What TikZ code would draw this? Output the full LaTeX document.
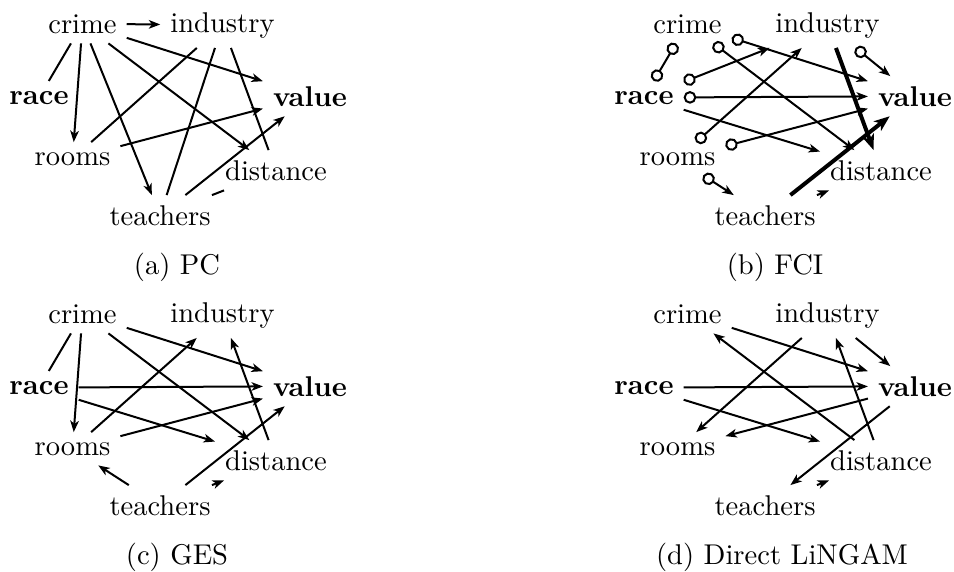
\documentclass[tikz,border=0pt]{standalone}
\usetikzlibrary{arrows.meta}
\tikzset{
  lbl/.style={anchor=base, inner sep=3.33pt},
  und/.style={line width=0.7pt},
  dir/.style={line width=0.7pt, -{Stealth[length=4pt,width=3pt,inset=1.1pt]}},
  oar/.style={line width=0.7pt, {Circle[open,length=4.4pt,width=4.4pt]}-{Stealth[length=4pt,width=3pt,inset=1.1pt]}},
  oo/.style={line width=0.7pt, {Circle[open,length=4.4pt,width=4.4pt]}-{Circle[open,length=4.4pt,width=4.4pt]}},
  thk/.style={line width=1.4pt, -{Stealth[length=5.5pt,width=4.2pt,inset=1.5pt]}},
  captxt/.style={anchor=base}
}
\newcommand{\mknodes}[1]{%
  \node[lbl] (#1crime) at (82.5,33) {crime};
  \node[lbl] (#1industry) at (222.5,32) {industry};
  \node[lbl] (#1race) at (39,104) {\textbf{race}};
  \node[lbl] (#1value) at (310,106) {\textbf{value}};
  \node[lbl] (#1rooms) at (72.5,165) {rooms};
  \node[lbl] (#1distance) at (276,180) {distance};
  \node[lbl] (#1teachers) at (160,225) {teachers};
}
\begin{document}
\begin{tikzpicture}[x=0.35pt,y=-0.35pt]
\useasboundingbox (0,0) rectangle (954,571);
% (a) PC
\begin{scope}
  \mknodes{a}
  \draw[dir] (acrime) -- (aindustry);
  \draw[und] (acrime) -- (arace);
  \draw[dir] (acrime) -- (arooms);
  \draw[dir] (acrime) -- (ateachers);
  \draw[dir] (acrime) -- (adistance);
  \draw[dir] (acrime) -- (avalue);
  \draw[und] (aindustry) -- (arooms);
  \draw[und] (aindustry) -- (ateachers);
  \draw[und] (aindustry) -- (adistance);
  \draw[dir] (arooms) -- (avalue);
  \draw[dir] (ateachers) -- (avalue);
  \draw[und] (ateachers) -- (adistance);
  \node[captxt] (capa) at (177,274) {(a) PC};
\end{scope}
% (b) FCI
\begin{scope}[shift={(605,0)}]
  \mknodes{b}
  \draw[oo] (bcrime) -- (brace);
  \draw[oar] (brace) -- (bindustry);
  \draw[oar] (brace) -- (bvalue);
  \draw[dir] (brace) -- (bdistance);
  \draw[oar] (bcrime) -- (bdistance);
  \draw[oar] (bcrime) -- (bvalue);
  \draw[oar] (brooms) -- (bindustry);
  \draw[oar] (brooms) -- (bvalue);
  \draw[oar] (bindustry) -- (bvalue);
  \draw[thk] (bindustry) -- (bdistance);
  \draw[thk] (bteachers) -- (bvalue);
  \draw[oar] (brooms) -- (bteachers);
  \draw[dir] (bteachers) -- (bdistance);
  \node[captxt] (capb) at (170,274) {(b) FCI};
\end{scope}
% (c) GES
\begin{scope}[shift={(0,290)}]
  \mknodes{c}
  \draw[und] (ccrime) -- (crace);
  \draw[dir] (ccrime) -- (crooms);
  \draw[dir] (ccrime) -- (cdistance);
  \draw[dir] (ccrime) -- (cvalue);
  \draw[dir] (crace) -- (cvalue);
  \draw[dir] (crace) -- (cdistance);
  \draw[dir] (crooms) -- (cindustry);
  \draw[dir] (crooms) -- (cvalue);
  \draw[dir] (cdistance) -- (cindustry);
  \draw[dir] (cteachers) -- (crooms);
  \draw[dir] (cteachers) -- (cvalue);
  \draw[dir] (cteachers) -- (cdistance);
  \node[captxt] (capc) at (177,274) {(c) GES};
\end{scope}
% (d) Direct LiNGAM
\begin{scope}[shift={(605,290)}]
  \mknodes{d}
  \draw[dir] (dcrime) -- (dvalue);
  \draw[dir] (ddistance) -- (dcrime);
  \draw[dir] (dindustry) -- (drooms);
  \draw[dir] (dindustry) -- (dvalue);
  \draw[dir] (drace) -- (dvalue);
  \draw[dir] (drace) -- (ddistance);
  \draw[dir] (dvalue) -- (drooms);
  \draw[dir] (ddistance) -- (dindustry);
  \draw[dir] (dvalue) -- (dteachers);
  \draw[dir] (dteachers) -- (ddistance);
  \node[captxt] (capd) at (177,274) {(d) Direct LiNGAM};
\end{scope}
\end{tikzpicture}
\end{document}
